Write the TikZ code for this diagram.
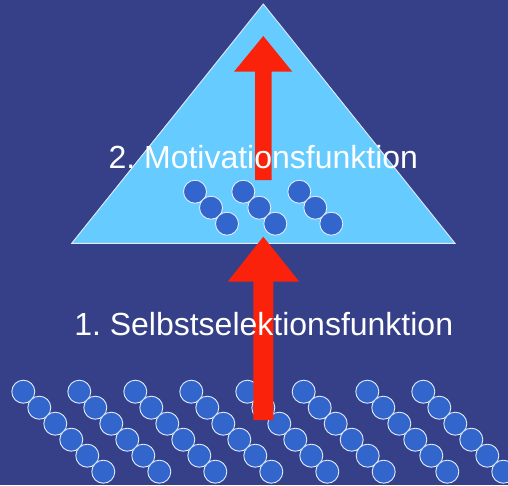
\documentclass[tikz,border=0pt]{standalone}
\usepackage{fontspec}
\setmainfont{Liberation Sans}
\definecolor{bgblue}{RGB}{53,64,137}
\definecolor{triblue}{RGB}{102,204,255}
\definecolor{dotblue}{RGB}{51,102,204}
\definecolor{arrred}{RGB}{250,34,10}
\definecolor{edgewhite}{RGB}{225,235,248}
\tikzset{
  dot/.style={fill=dotblue, draw=edgewhite, line width=0.9pt},
  tri/.style={fill=triblue, draw=edgewhite, line width=0.9pt},
  redarrow/.style={fill=arrred, draw=none},
  label/.style={text=white, font=\fontsize{32}{38}\selectfont\frenchspacing, anchor=base, inner sep=0pt}
}
\begin{document}
\begin{tikzpicture}[x=1pt,y=-1pt]
\fill[bgblue] (0,0) rectangle (508,485);
\useasboundingbox (0,0) rectangle (508,485);
% triangle
\draw[tri] (263.3,4) -- (455,243.3) -- (71.7,243.3) -- cycle;
% circles inside triangle
\foreach \sx in {195,243.3,299.3}{
  \foreach \k in {0,1,2}{
    \draw[dot] (\sx+16*\k,191.7+16*\k) circle (11.5);
  }
}
% bottom circle chains
\foreach \sx in {23.3,79.3,135.3,191.3,247.3,303.7,367.3,423.3}{
  \foreach \k in {0,...,5}{
    \draw[dot] (\sx+16*\k,391.7+16*\k) circle (11.5);
  }
}
% red arrows
\fill[redarrow] (255,180) -- (255,71.7) -- (234,71.7) -- (263.3,36) -- (292.3,71.7) -- (271.7,71.7) -- (271.7,180) -- cycle;
\fill[redarrow] (253.3,420) -- (253.3,281.7) -- (227.7,281.7) -- (263.3,236.7) -- (299.3,281.7) -- (273.3,281.7) -- (273.3,420) -- cycle;
% labels
\node[label] (mot) at (263.3,168.3) {2. Motivationsfunktion};
\node[label] (sel) at (263.7,335) {1. Selbstselektionsfunktion};
\end{tikzpicture}
\end{document}
